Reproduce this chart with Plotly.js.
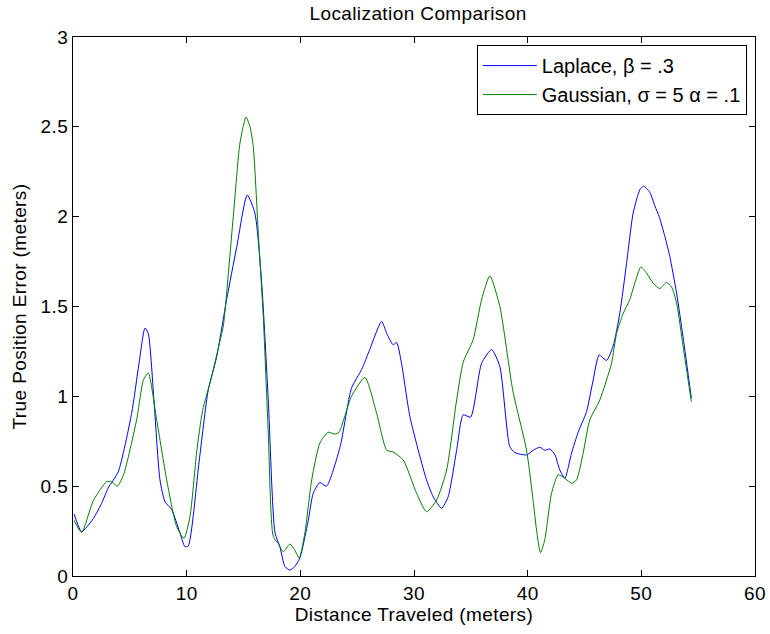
<!DOCTYPE html>
<html><head><meta charset="utf-8">
<script src="https://cdn.plot.ly/plotly-3.0.1.min.js"></script>
<style>body{margin:0;background:#fff}#c{width:770px;height:634px}.main-svg text{letter-spacing:0.4px}.main-svg .legend text{letter-spacing:0}</style>
</head><body><div id="c"></div>
<script>
const laplaceX=[0.1,0.76,1.79,2.52,3.1,3.98,5.16,5.8,6.33,6.62,7.15,7.65,8.09,8.68,9.41,9.85,10.14,11.1,11.9,12.64,13.52,14.4,15.33,16.0,16.6,17.18,17.77,18.2,18.65,19.08,19.5,19.96,20.7,21.13,21.72,22.3,23.5,24.5,25.4,26.1,27.15,27.6,28.17,28.47,28.9,29.64,31.1,31.7,32.43,33.0,33.75,34.33,34.98,35.95,36.83,37.55,38.43,38.87,39.9,40.5,41.07,41.5,41.95,42.4,42.83,43.27,43.86,44.44,45.18,45.76,46.29,46.94,47.52,48.1,48.7,49.28,49.87,50.2,50.75,51.19,51.57,52.07,52.5,53.1,53.67,54.4];
const laplaceY=[0.345,0.247,0.32,0.405,0.49,0.58,0.906,1.18,1.38,1.35,0.95,0.535,0.414,0.37,0.24,0.163,0.167,0.64,1.036,1.22,1.54,1.83,2.12,2.02,1.63,0.98,0.24,0.163,0.052,0.033,0.052,0.10,0.31,0.46,0.52,0.50,0.72,1.045,1.15,1.26,1.417,1.35,1.287,1.30,1.185,0.887,0.535,0.44,0.377,0.44,0.70,0.897,0.884,1.185,1.26,1.166,0.72,0.687,0.674,0.70,0.717,0.70,0.707,0.674,0.59,0.544,0.684,0.80,0.915,1.09,1.23,1.20,1.28,1.46,1.74,2.02,2.15,2.17,2.135,2.06,2.0,1.89,1.78,1.575,1.33,0.99];
const gaussX=[0.1,0.76,1.79,2.96,3.4,3.9,4.43,5.6,6.19,6.62,7.36,8.24,9.12,9.76,10.29,10.88,11.4,12.2,12.9,13.22,14.1,14.69,15.22,15.57,15.86,16.3,16.74,17.18,17.62,18.06,18.5,19.08,19.5,19.9,20.4,21.0,21.72,22.45,23.04,23.4,24.5,25.68,26.71,27.6,28.17,29.05,30.23,31.1,31.99,32.87,33.75,34.33,35.2,35.95,36.67,37.55,38.7,39.9,40.48,40.78,41.13,41.5,42.1,42.68,43.27,43.86,44.3,44.88,45.47,46.35,47.38,47.82,48.4,48.99,49.43,49.96,50.46,51.04,51.63,52.2,52.65,53.1,53.67,54.4];
const gaussY=[0.31,0.243,0.42,0.525,0.525,0.50,0.56,0.87,1.09,1.13,0.87,0.535,0.275,0.21,0.33,0.69,0.92,1.11,1.30,1.39,2.0,2.41,2.555,2.50,2.39,1.91,1.44,0.795,0.22,0.18,0.135,0.178,0.145,0.10,0.24,0.535,0.74,0.80,0.79,0.80,1.0,1.105,0.906,0.70,0.69,0.646,0.46,0.358,0.423,0.59,0.98,1.19,1.315,1.54,1.67,1.50,1.03,0.70,0.42,0.256,0.13,0.20,0.46,0.563,0.544,0.516,0.535,0.684,0.87,0.98,1.185,1.35,1.46,1.54,1.63,1.72,1.686,1.63,1.60,1.634,1.61,1.52,1.28,0.97];
const xTicks=[0,10,20,30,40,50,60];
const yTicks=[0,0.5,1,1.5,2,2.5,3];
const yTickText=['0','0.5','1','1.5','2','2.5','3'];

const font='"Liberation Sans", Arial, Helvetica, sans-serif';
const fs=19;
const traces=[
 {x:laplaceX,y:laplaceY,mode:'lines',name:'Laplace, β = .3',line:{color:'#0000ff',width:1,shape:'spline',smoothing:0.6}},
 {x:gaussX,y:gaussY,mode:'lines',name:'Gaussian, σ = 5 α = .1',line:{color:'#008000',width:1,shape:'spline',smoothing:0.6}}
];
const axisCommon={showgrid:false,zeroline:false,showline:true,linecolor:'#000',linewidth:1,mirror:'ticks',ticks:'inside',ticklen:6,tickcolor:'#000',tickfont:{size:fs,color:'#000',family:font}};
const layout={
 width:770,height:634,
 margin:{l:73,r:15,t:37,b:58},
 paper_bgcolor:'#fff',plot_bgcolor:'#fff',
 font:{family:font,color:'#000'},
 title:{text:'Localization Comparison',font:{size:fs,color:'#000',family:font},xref:'paper',x:0.506,xanchor:'center',y:0.99,yanchor:'top'},
 xaxis:Object.assign({},axisCommon,{range:[0,60],tickvals:xTicks,ticktext:xTicks.map(String),title:{text:'Distance Traveled (meters)',font:{size:fs,color:'#000',family:font},standoff:2}}),
 yaxis:Object.assign({},axisCommon,{range:[0,3],tickvals:yTicks,ticktext:yTickText,title:{text:'True Position Error (meters)',font:{size:fs,color:'#000',family:font},standoff:10}}),
 legend:{x:0.988,y:0.985,xanchor:'right',yanchor:'top',bgcolor:'#fff',bordercolor:'#000',borderwidth:1,font:{size:20,color:'#000',family:font},itemwidth:54,tracegroupgap:0},
 showlegend:true
};
Plotly.newPlot('c',traces,layout,{displayModeBar:false,staticPlot:true});
</script></body></html>
